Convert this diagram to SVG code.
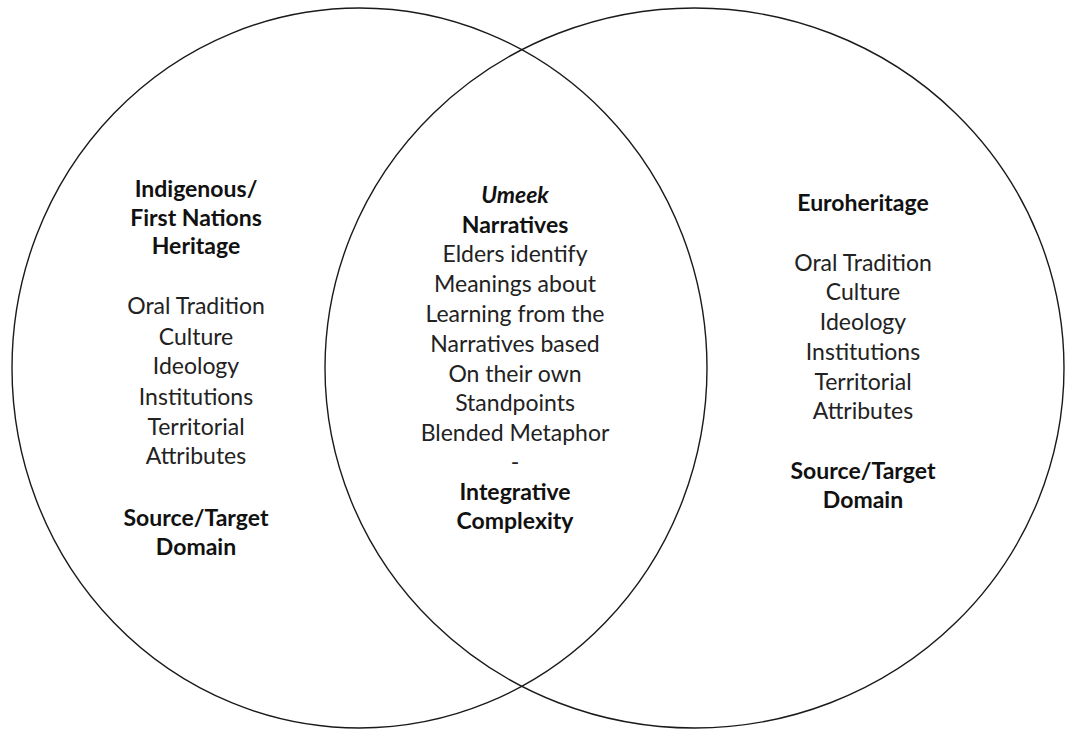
<svg xmlns="http://www.w3.org/2000/svg" width="1070" height="730" viewBox="0 0 1070 730">
<style>
.c{fill:none;stroke:#1a1a1a;stroke-width:1.4}
text{font-family:Lato,"Open Sans","Liberation Sans",sans-serif;font-size:23px;fill:#222;text-anchor:middle}
.b{font-weight:bold;fill:#111}
.i{font-style:italic;font-weight:bold;fill:#111}
</style>
<rect width="1070" height="730" fill="#fff"/>
<g id="circles">
<ellipse id="left-circle" class="c" cx="359.5" cy="368" rx="347.5" ry="360"/>
<ellipse id="right-circle" class="c" cx="694.5" cy="368" rx="369.5" ry="360"/>
</g>
<g id="left-text">
<text class="b" x="196" y="197">Indigenous/</text>
<text class="b" x="196" y="226">First Nations</text>
<text class="b" x="196" y="254">Heritage</text>
<text x="196" y="314">Oral Tradition</text>
<text x="196" y="345">Culture</text>
<text x="196" y="374">Ideology</text>
<text x="196" y="405">Institutions</text>
<text x="196" y="435">Territorial</text>
<text x="196" y="464">Attributes</text>
<text class="b" x="196" y="526">Source/Target</text>
<text class="b" x="196" y="555">Domain</text>
</g>
<g id="middle-text">
<text class="i" x="515" y="203">Umeek</text>
<text class="b" x="515" y="233">Narratives</text>
<text x="515" y="262">Elders identify</text>
<text x="515" y="292">Meanings about</text>
<text x="515" y="322">Learning from the</text>
<text x="515" y="352">Narratives based</text>
<text x="515" y="382">On their own</text>
<text x="515" y="411">Standpoints</text>
<text x="515" y="441">Blended Metaphor</text>
<text x="515" y="470">-</text>
<text class="b" x="515" y="500">Integrative</text>
<text class="b" x="515" y="529">Complexity</text>
</g>
<g id="right-text">
<text class="b" x="863" y="211">Euroheritage</text>
<text x="863" y="271">Oral Tradition</text>
<text x="863" y="300">Culture</text>
<text x="863" y="330">Ideology</text>
<text x="863" y="360">Institutions</text>
<text x="863" y="390">Territorial</text>
<text x="863" y="419">Attributes</text>
<text class="b" x="863" y="479">Source/Target</text>
<text class="b" x="863" y="508">Domain</text>
</g>
</svg>
